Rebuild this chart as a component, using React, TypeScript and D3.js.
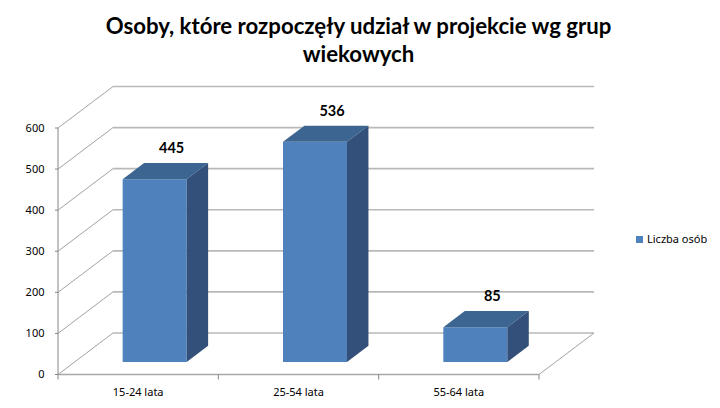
import React from "react";
import * as d3 from "d3";

const categories = ["15-24 lata", "25-54 lata", "55-64 lata"];
const values = [445, 536, 85];
const yTicks = [0, 100, 200, 300, 400, 500, 600];
const titleLines = ["Osoby, które rozpoczęły udział w projekcie wg grup", "wiekowych"];
const seriesName = "Liczba osób";

const width = 720;
const height = 408;

// front plane of the 3d box
const x = d3.scaleBand<string>().domain(categories).range([58, 539]).paddingInner(0).paddingOuter(0);
const y = d3.scaleLinear().domain([0, 600]).range([374.5, 128]);

// oblique offset of the back wall
const depthX = 55;
const depthY = -41.5;
const barFront = 0.3;
const barBack = 0.69;
const barWidth = 64;

const poly = (pts: number[][]) => d3.line()(pts as [number, number][]) + "Z";

export default function App() {
    const sideFont = "'Noto Sans', sans-serif";

    return (
        <svg width={width} height={height} viewBox={`0 0 ${width} ${height}`} style={{ position: "absolute", left: 0, top: 0, background: "#fff" }}>
            {/* Title */}
            <g fontFamily="Lato, sans-serif" fontWeight="700" fontSize="22.2" fill="#000" textAnchor="middle">
                {titleLines.map((t, i) => (
                    <text key={i} x={358.5} y={34 + i * 28}>{t}</text>
                ))}
            </g>

            {/* Back wall grid and left wall */}
            <g fill="none">
                {yTicks.map((t) => (
                    <g key={t}>
                        <line x1={58 + depthX} x2={539 + depthX} y1={y(t) + depthY} y2={y(t) + depthY} stroke="#b9b9b9" strokeWidth={t === 600 ? 1.5 : 1.6} />
                        <line x1={58} x2={58 + depthX} y1={y(t)} y2={y(t) + depthY} stroke="#a3a3a3" strokeWidth={1} />
                        <line x1={55} x2={58} y1={y(t)} y2={y(t)} stroke="#868686" />
                    </g>
                ))}
                <line x1={539} x2={539 + depthX} y1={y(0)} y2={y(0) + depthY} stroke="#a3a3a3" />
                <line x1={58} x2={58} y1={y(0)} y2={y(600)} stroke="#868686" strokeWidth={1} />
                <line x1={58} x2={539} y1={y(0)} y2={y(0)} stroke="#a8a8a8" strokeWidth={1.5} />
                {[...categories.map((c) => x(c) as number), 539].map((d, i) => (
                    <line key={i} x1={d} x2={d} y1={y(0)} y2={y(0) + 5} stroke="#868686" />
                ))}
            </g>

            {/* Y axis labels */}
            <g fontFamily={sideFont} fontSize="11" fill="#000" textAnchor="end">
                {yTicks.map((t) => (
                    <text key={t} x={44.5} y={y(t)} dy="0.35em">{t}</text>
                ))}
            </g>

            {/* Bars */}
            {values.map((v, i) => {
                const c = categories[i];
                const cx = (x(c) as number) + x.bandwidth() / 2 + depthX * barFront;
                const x0 = cx - barWidth / 2;
                const x1 = cx + barWidth / 2;
                const yb = y(0) + depthY * barFront;
                const yt = y(v) + depthY * barFront;
                const dx = depthX * (barBack - barFront);
                const dy = depthY * (barBack - barFront);
                return (
                    <g key={c}>
                        <path d={poly([[x0, yb], [x1, yb], [x1, yt], [x0, yt]])} fill="#4f81bd" />
                        <path d={poly([[x0, yt], [x1, yt], [x1 + dx, yt + dy], [x0 + dx, yt + dy]])} fill="#3c6591" />
                        <path d={poly([[x1, yb], [x1 + dx, yb + dy], [x1 + dx, yt + dy], [x1, yt]])} fill="#325079" />
                        <text x={cx + 17} y={yt + dy - 15} dy="0.35em" textAnchor="middle" fontFamily="Lato, sans-serif" fontWeight="700" fontSize="14.5" fill="#000">{v}</text>
                    </g>
                );
            })}

            {/* Category labels */}
            <g fontFamily={sideFont} fontSize="11" fill="#000" textAnchor="middle">
                {categories.map((c) => (
                    <text key={c} x={(x(c) as number) + x.bandwidth() / 2} y={392} dy="0.35em">{c}</text>
                ))}
            </g>

            {/* Legend */}
            <rect x={636} y={236} width={7} height={7} fill="#4f81bd" />
            <text x={647} y={239.5} dy="0.35em" fontFamily={sideFont} fontSize="11" fill="#000">{seriesName}</text>
        </svg>
    );
}
